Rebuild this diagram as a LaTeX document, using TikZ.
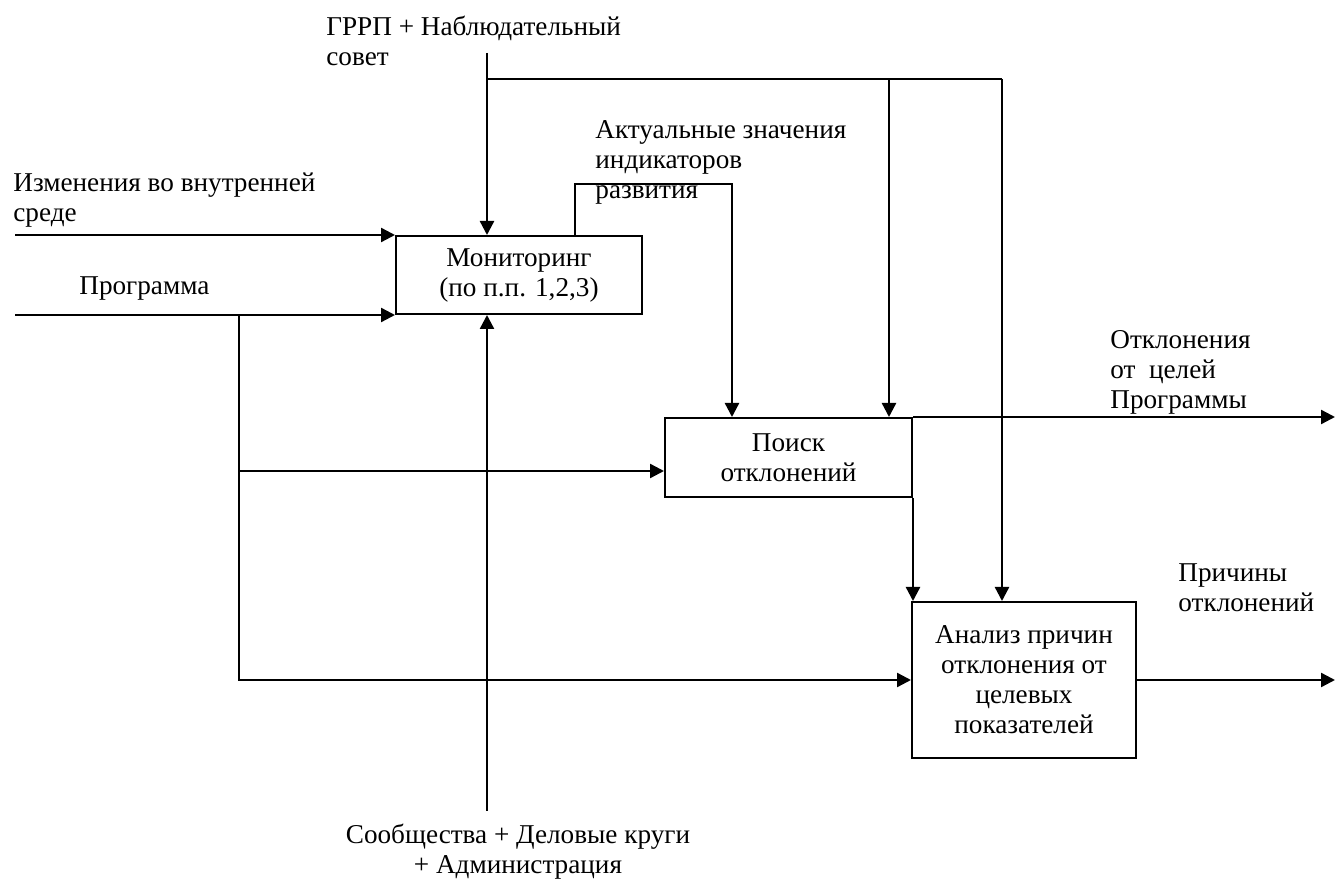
\documentclass[tikz,border=0pt]{standalone}
\usepackage{fontspec}
\setmainfont{Liberation Serif}
\usetikzlibrary{arrows.meta,positioning}
\tikzset{>={Triangle[length=7pt,width=7pt]},
         every node/.style={font=\fontsize{13.6}{15}\selectfont},
         func/.style={draw, line width=1pt, align=center, inner sep=0pt},
         flow/.style={->, line width=1.2pt},
         link/.style={line width=1.2pt},
         lbl/.style={align=left, anchor=north west, inner sep=0pt}}

\begin{document}
\begin{tikzpicture}[x=0.5pt, y=-0.5pt]
  \useasboundingbox (0,0) rectangle (1335,881);
  % blocks
  \node[func, minimum width=123pt, minimum height=39pt] (mon) at (519,275)
    {Мониторинг\\(по п.п. 1,2,3)};
  \node[func, minimum width=123.5pt, minimum height=39.5pt] (poisk) at (788.5,457.5)
    {Поиск\\отклонений};
  \node[func, minimum width=112pt, minimum height=78pt] (anal) at (1024,680)
    {Анализ причин\\отклонения от\\целевых\\показателей};
  % labels
  \node[lbl] (l-grrp) at (326,16) {ГРРП + Наблюдательный\\совет};
  \node[lbl] (l-akt) at (595,120) {Актуальные значения\\индикаторов\\развития};
  \node[lbl] (l-izm) at (13,172) {Изменения во внутренней\\среде};
  \node[lbl] (l-prog) at (79,276) {Программа};
  \node[lbl] (l-otk) at (1110,330) {Отклонения\\от\ \ целей\\Программы};
  \node[lbl] (l-pri) at (1178,563) {Причины\\отклонений};
  \node[align=center, anchor=north, inner sep=0pt] (l-soob) at (518,824)
    {Сообщества + Деловые круги\\+ Администрация};
  % control
  \coordinate (g0) at (487,53);
  \coordinate (g1) at (487,79);
  \coordinate (g2) at (889,79);
  \coordinate (g3) at (1002,79);
  \draw[flow] (g0) -- (g0 |- mon.north);
  \draw[link] (g1) -- (g3);
  \draw[flow] (g2) -- (g2 |- poisk.north);
  \draw[flow] (g3) -- (g3 |- anal.north);
  % inputs
  \coordinate (izm) at (15,0 |- mon.north west);
  \coordinate (prog) at (15,0 |- mon.south west);
  \coordinate (pb) at (239,0 |- mon.south west);
  \draw[flow] (izm) -- (mon.north west);
  \draw[flow] (prog) -- (mon.south west);
  \draw[flow] (pb) |- ([yshift=-6.75pt]poisk.west);
  \draw[flow] (pb) |- (anal.west);
  \coordinate (akt) at (732,184);
  \draw[flow] ([xshift=28pt]mon.north) |- (akt) -- (akt |- poisk.north);
  % mechanism
  \coordinate (soob) at (487,811);
  \draw[flow] (soob) -- (soob |- mon.south);
  % outputs
  \coordinate (otk) at (1335,0 |- poisk.north east);
  \coordinate (pri) at (1335,0 |- anal.east);
  \draw[flow] (poisk.north east) -- (otk);
  \draw[flow] (poisk.south east) -- (poisk.south east |- anal.north);
  \draw[flow] (anal.east) -- (pri);
\end{tikzpicture}
\end{document}
